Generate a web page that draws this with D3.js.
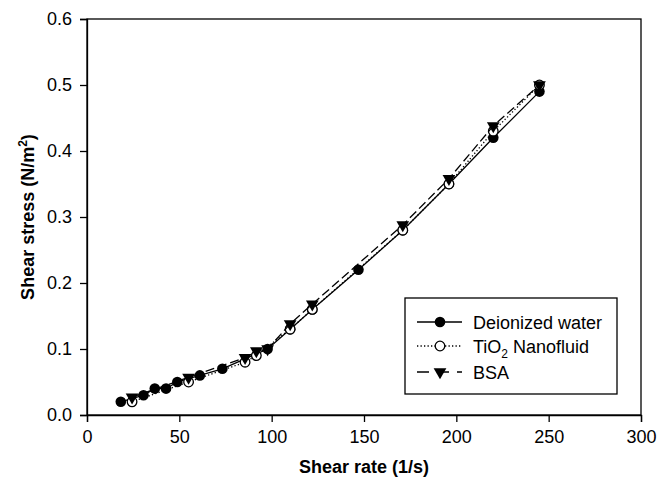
<!DOCTYPE html>
<html>
<head>
<meta charset="utf-8">
<script src="https://cdn.jsdelivr.net/npm/d3@7"></script>
<style>
  body { margin: 0; background: #fff; }
  text { font-family: "Liberation Sans", Arial, sans-serif; fill: #000; }
</style>
</head>
<body>
<div id="chart"></div>
<script>
// Shear stress vs shear rate data

var waterRate = [18.3, 30.6, 36.7, 42.8, 48.9, 61.1, 73.3, 97.8, 110, 122, 147, 171, 196, 220, 245]
var waterStress = [0.02, 0.03, 0.04, 0.04, 0.05, 0.06, 0.07, 0.10, 0.13, 0.16, 0.22, 0.28, 0.35, 0.42, 0.49]

var tioRate = [24.4, 55, 85.6, 91.7, 110, 122, 171, 196, 220, 245]
var tioStress = [0.02, 0.05, 0.08, 0.09, 0.13, 0.16, 0.28, 0.35, 0.43, 0.50]

var bsaRate = [24.4, 55, 85.6, 91.7, 97.8, 110, 122, 171, 196, 220, 245]
var bsaStress = [0.027, 0.057, 0.087, 0.097, 0.10, 0.138, 0.168, 0.288, 0.358, 0.438, 0.50]

var xTicks = [0, 50, 100, 150, 200, 250, 300]
var yTicks = [0.0, 0.1, 0.2, 0.3, 0.4, 0.5, 0.6]

var width = 657
var height = 489
var margin = { top: 19, right: 16, bottom: 74, left: 87 }

var svg = d3.select('#chart')
  .append('svg')
  .attr('width', width)
  .attr('height', height)

var x = d3.scaleLinear().domain([0, 300]).range([margin.left, width - margin.right])
var y = d3.scaleLinear().domain([0, 0.6]).range([height - margin.bottom, margin.top])

// frame
svg.append('rect')
  .attr('x', x(0)).attr('y', y(0.6))
  .attr('width', x(300) - x(0)).attr('height', y(0) - y(0.6))
  .attr('fill', 'none').attr('stroke', '#000').attr('stroke-width', 1.3)

var xAxis = svg.append('g')
  .attr('transform', `translate(0,${y(0)})`)
  .call(d3.axisBottom(x).tickValues(xTicks).tickSize(7).tickPadding(8).tickFormat(d3.format('d')))
var yAxis = svg.append('g')
  .attr('transform', `translate(${x(0)},0)`)
  .call(d3.axisLeft(y).tickValues(yTicks).tickSize(7).tickPadding(8).tickFormat(d3.format('.1f')))

;[xAxis, yAxis].forEach(g => {
  g.select('.domain').attr('stroke-width', 1.3)
  g.selectAll('.tick line').attr('stroke-width', 1.3)
  g.selectAll('.tick text').style('font-size', '18px').attr('font-family', null)
})

// axis titles
svg.append('text')
  .text('Shear rate (1/s)')
  .attr('x', (x(0) + x(300)) / 2)
  .attr('y', 473)
  .attr('text-anchor', 'middle')
  .style('font-size', '18px').style('font-weight', 'bold')

var yt = svg.append('text')
  .attr('transform', `translate(34,${(y(0) + y(0.6)) / 2}) rotate(-90)`)
  .attr('text-anchor', 'middle')
  .style('font-size', '18px').style('font-weight', 'bold')
yt.append('tspan').text('Shear stress (N/m')
yt.append('tspan').text('2').attr('dy', -7).style('font-size', '12px')
yt.append('tspan').text(')').attr('dy', 7)

// series
var series = [
  { name: 'water', rate: waterRate, stress: waterStress, dash: null, marker: 'filled' },
  { name: 'tio', rate: tioRate, stress: tioStress, dash: '1.3,2.2', marker: 'open' },
  { name: 'bsa', rate: bsaRate, stress: bsaStress, dash: '9,4', marker: 'tri' }
]

var line = d3.line().x(d => x(d[0])).y(d => y(d[1]))
var triSym = d3.symbol().type(d3.symbolTriangle).size(70)

function drawMarker(g, kind, cx, cy) {
  if (kind === 'filled') {
    g.append('circle').attr('cx', cx).attr('cy', cy).attr('r', 5.3).attr('fill', '#000')
  } else if (kind === 'open') {
    g.append('circle').attr('cx', cx).attr('cy', cy).attr('r', 4.8)
      .attr('fill', '#fff').attr('stroke', '#000').attr('stroke-width', 1.3)
  } else {
    g.append('path').attr('d', triSym())
      .attr('transform', `translate(${cx},${cy}) rotate(180)`).attr('fill', '#000')
  }
}

series.forEach(s => {
  var pts = s.rate.map((r, i) => [r, s.stress[i]])
  var g = svg.append('g').attr('class', s.name)
  g.append('path')
    .attr('d', line(pts))
    .attr('fill', 'none').attr('stroke', '#000').attr('stroke-width', 1.3)
    .attr('stroke-dasharray', s.dash)
  pts.forEach(p => drawMarker(g, s.marker, x(p[0]), y(p[1])))
})

// legend
var lg = svg.append('g')
lg.append('rect')
  .attr('x', 405).attr('y', 298).attr('width', 212).attr('height', 96)
  .attr('fill', '#fff').attr('stroke', '#000').attr('stroke-width', 1.3)

var legendRows = [
  { label: 'Deionized water', dash: null, marker: 'filled', ly: 322 },
  { label: 'TiO', sub: '2', rest: ' Nanofluid', dash: '1.3,2.2', marker: 'open', ly: 346 },
  { label: 'BSA', dash: '9,4', marker: 'tri', ly: 372 }
]
legendRows.forEach(r => {
  lg.append('line')
    .attr('x1', 417).attr('x2', 462).attr('y1', r.ly).attr('y2', r.ly)
    .attr('stroke', '#000').attr('stroke-width', 1.3)
    .attr('stroke-dasharray', r.marker === 'tri' ? '12,8' : r.dash)
  drawMarker(lg, r.marker, 440, r.ly)
  var t = lg.append('text').attr('x', 473).attr('y', r.ly + 6.5).style('font-size', '18px')
  t.append('tspan').text(r.label)
  if (r.sub) {
    t.append('tspan').text(r.sub).attr('dy', 5).style('font-size', '12px')
    t.append('tspan').text(r.rest).attr('dy', -5)
  }
})
</script>
</body>
</html>
